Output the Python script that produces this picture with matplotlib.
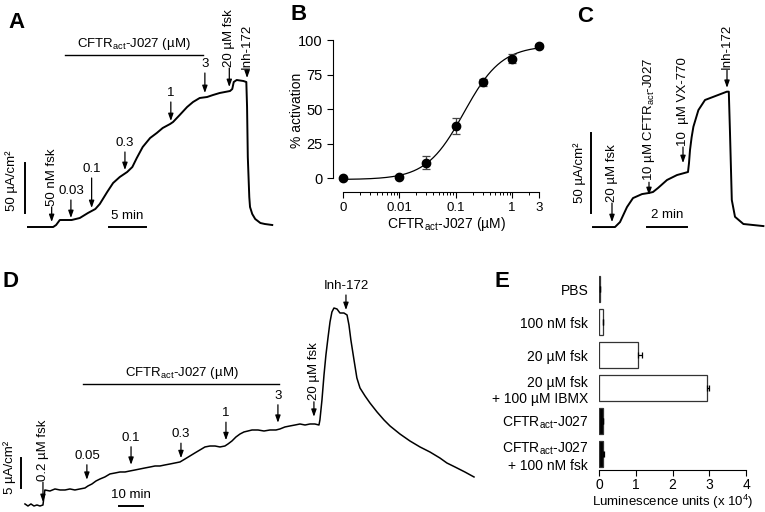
import matplotlib
matplotlib.use('Agg')
import matplotlib.pyplot as plt
import numpy as np
from matplotlib.ticker import LogLocator, NullFormatter, FixedLocator

plt.rcParams['font.family'] = ['Liberation Sans', 'DejaVu Sans']
plt.rcParams['mathtext.default'] = 'regular'
plt.rcParams['font.size'] = 9.5

CFTR = 'CFTR$_{act}$-J027'

# ---- panel A: short-circuit current trace (min, uA/cm2)
A_time = [0.0, 3.4, 3.8, 4.3, 5.9, 7.0, 8.1, 9.1, 9.7, 10.7, 11.5, 12.4, 13.4, 14.1, 14.7,
          15.5, 16.5, 17.4, 18.2, 19.2, 19.6, 20.5, 21.5, 22.3, 23.2, 24.2, 25.0, 25.9, 27.3,
          27.6, 27.8, 28.2, 29.1, 29.5, 29.6, 29.7, 29.9, 30.0, 30.3, 30.7, 31.4, 32.0, 33.0]
A_current = [0, 0, 2, 7, 7, 9, 14, 18, 23, 35, 44, 50, 55, 60, 69,
             80, 89, 94, 99, 103, 105, 112, 120, 125, 129, 130, 132, 134, 136,
             138, 145, 147, 146, 145, 120, 70, 30, 20, 13, 8, 4, 3, 2]
A_event_time = [3.2, 5.8, 8.6, 13.1, 19.3, 23.9, 27.2, 29.6]
A_event_label = ['50 nM fsk', '0.03', '0.1', '0.3', '1', '3', '20 µM fsk', 'Inh-172']
A_event_rot = [90, 0, 0, 0, 0, 0, 90, 90]
A_arrow_top = [20, 27, 49, 75, 125, 154, 159, 157]
A_arrow_tip = [5, 9, 19, 57, 106, 134, 140, 149]

# ---- panel B: dose response
B_conc = [0, 0.01, 0.03, 0.1, 0.3, 1, 3]
B_act = [0, 1, 11, 38, 69.5, 86.6, 95.6]
B_err = [0, 0, 4.7, 5.8, 2.5, 3, 1.2]
B_top, B_bottom, B_ec50, B_hill = 96, -1, 0.14, 1.3

# ---- panel C
C_time = [0, 1.1, 1.35, 1.7, 2.0, 2.45, 2.8, 3.0, 3.25, 3.7, 4.2, 4.75, 4.8, 4.85, 4.93,
          5.02, 5.27, 5.6, 6.02, 6.69, 6.79, 6.85, 6.94, 7.1, 7.52, 8.52]
C_current = [0, 0, 3.1, 12.5, 18.1, 20.6, 21.3, 21.9, 24.4, 29.4, 32.5, 34.4, 40, 48.1, 56,
             62.7, 73.1, 79.4, 81.4, 84.6, 84.6, 58.8, 16.9, 6.4, 1.9, 0.6]
C_event_time = [0.95, 2.8, 4.5, 6.7]
C_event_label = ['20 µM fsk', '10 µM ' + CFTR, '10  µM VX-770', 'Inh-172']
C_arrow_top = [15, 28, 50, 98]
C_arrow_tip = [3.1, 20, 40, 87]

# ---- panel D
D_time = [0, 1.25, 2.5, 3.75, 5, 6.25, 7.5, 7.9, 8.3, 10.4, 12.5, 14.6, 16.7, 18.75, 20.8,
          22.9, 25, 26.25, 27.9, 29.6, 31.25, 33.3, 35.4, 37.5, 39.6, 41.7, 43.75, 45.8, 47.9,
          50, 52.1, 54.2, 56.25, 58.3, 60.4, 62.5, 64.6, 66.7, 68.75, 70.8, 72.9, 75, 77.1,
          79.2, 81.25, 83.3, 84.6, 86.25, 87.9, 89.6, 91.25, 92.9, 94.6, 97.1, 99.6, 102.1,
          104.6, 106.25, 108.3, 110.4, 112.5, 114.6, 116.7, 118.75, 120.8, 122.5, 122.9,
          123.75, 124.6, 125.4, 126.25, 127.1, 127.9, 128.75, 130, 131.25, 132.9, 134.2, 135,
          135.8, 137.1, 138.3, 139.6, 141.7, 143.75, 146.7, 149.6, 152.1, 156.25, 160.4, 164.6,
          168.75, 172.9, 175.8, 179.2, 183.3, 187.1]
D_current = [0.17, -0.17, 0.17, -0.17, 0, -0.17, 0, 1.33, 2.5, 2.33, 2.67, 2.5, 2.5, 2.67, 2.5,
             2.67, 2.83, 3.17, 3.5, 4.0, 4.33, 4.67, 5.17, 5.33, 5.5, 5.5, 5.67, 5.83, 6.0,
             6.17, 6.33, 6.5, 6.5, 6.67, 6.83, 7.0, 7.17, 7.67, 8.17, 8.67, 9.17, 9.67, 9.83,
             9.83, 9.67, 9.83, 10.17, 10.67, 11.33, 11.83, 12.17, 12.33, 12.5, 12.5, 12.33, 12.5,
             12.5, 12.67, 13.0, 13.17, 13.33, 13.5, 13.33, 13.5, 13.5, 13.33, 14.17,
             17.5, 21.67, 25.0, 27.83, 30.5, 32.17, 32.83, 32.67, 32.0, 32.0, 31.67, 30.0,
             27.5, 24.17, 21.17, 19.5, 18.17, 17.0, 15.5, 14.17, 13.17, 11.83, 10.67, 9.67,
             8.83, 7.83, 7.0, 6.33, 5.5, 4.67]
D_event_time = [7.5, 25.8, 44.2, 65, 83.75, 105.4, 120.4, 133.75]
D_event_label = ['0.2 µM fsk', '0.05', '0.1', '0.3', '1', '3', '20 µM fsk', 'Inh-172']
D_event_rot = [90, 0, 0, 0, 0, 0, 90, 0]
D_arrow_top = [3.8, 6.7, 9.7, 10.3, 13.8, 16.7, 17.2, 35]
D_arrow_tip = [0.5, 4.2, 6.7, 7.8, 10.8, 13.7, 14.7, 32.5]

# ---- panel E
E_labels = ['PBS', '100 nM fsk', '20 µM fsk', '20 µM fsk\n+ 100 µM IBMX',
            CFTR, CFTR + '\n+ 100 nM fsk']
E_values = [0.02, 0.09, 1.06, 2.94, 0.09, 0.11]
E_err = [0, 0.02, 0.1, 0.04, 0.01, 0.02]
E_colors = ['black', 'white', 'white', 'white', 'black', 'black']

W, H = 765, 512
fig = plt.figure(figsize=(W / 100, H / 100), dpi=100)


def box(l, t, r, b):
    return [l / W, 1 - b / H, (r - l) / W, (b - t) / H]


def trace_axes(rect, xlim, ylim):
    ax = fig.add_axes(box(*rect))
    ax.set_xlim(*xlim)
    ax.set_ylim(*ylim)
    ax.axis('off')
    return ax


def events(ax, times, labels, rots, tops, tips):
    for t, lab, rot, y0, y1 in zip(times, labels, rots, tops, tips):
        ax.annotate('', xy=(t, y1), xytext=(t, y0),
                    arrowprops=dict(arrowstyle='-|>,head_length=0.45,head_width=0.16',
                                    lw=0.9, color='k', shrinkA=0, shrinkB=0))
        ax.annotate(lab, (t, y0), xytext=(0, 1 if rot else 2), textcoords='offset points',
                    ha='center', va='bottom', rotation=rot)


def letter(x, y, s):
    fig.text(x / W, 1 - y / H, s, fontsize=16, fontweight='bold', va='baseline')


# A
axA = trace_axes((0, 0, 280, 240), (-3.78, 34.05), (-13, 227))
axA.plot(A_time, A_current, color='k', lw=1.4)
events(axA, A_event_time, A_event_label, A_event_rot, A_arrow_top, A_arrow_tip)
axA.plot([5.0, 23.6], [172, 172], color='k', lw=1)
axA.text(14.3, 175, CFTR + ' (µM)', ha='center', va='bottom')
axA.plot([-0.4, -0.4], [14, 64], color='k', lw=1.4)
axA.text(-2.16, 46, '50 µA/cm²', rotation=90, ha='center', va='center')
axA.plot([10.9, 15.9], [0, 0], color='k', lw=1.4)
axA.text(13.4, 5, '5 min', ha='center', va='bottom')
letter(8, 28, 'A')

# B
axB = fig.add_axes(box(343, 40, 539, 192))
axB.set_xscale('log')
axB.set_xlim(0.001, 3)
axB.set_ylim(-10, 100)
xplot = [c if c > 0 else 0.001 for c in B_conc]
fit_x = np.logspace(-3, np.log10(3), 300)
fit_y = B_bottom + (B_top - B_bottom) / (1 + (B_ec50 / fit_x) ** B_hill)
axB.plot(fit_x, fit_y, color='k', lw=0.9)
axB.errorbar(xplot, B_act, yerr=B_err, fmt='o', color='k', ms=6, ecolor='#444444',
             elinewidth=0.9, capsize=3, capthick=0.9, clip_on=False, zorder=3)
for s in ['top', 'right']:
    axB.spines[s].set_visible(False)
axB.spines['left'].set_position(('outward', 7))
axB.spines['left'].set_bounds(0, 100)
axB.spines['bottom'].set_bounds(0.001, 3)
axB.set_yticks([0, 25, 50, 75, 100])
axB.xaxis.set_major_locator(FixedLocator([0.001, 0.01, 0.1, 1, 3]))
axB.set_xticklabels(['0', '0.01', '0.1', '1', '3'])
axB.xaxis.set_minor_locator(LogLocator(subs=np.arange(2, 10), numticks=20))
axB.xaxis.set_minor_formatter(NullFormatter())
axB.tick_params(axis='y', labelsize=10.5, length=4, width=0.8)
axB.tick_params(axis='x', which='major', labelsize=9.5, length=4, width=0.8)
axB.tick_params(axis='x', which='minor', length=2.5, width=0.7)
axB.set_ylabel('% activation', fontsize=10)
axB.yaxis.set_label_coords(-0.2, 0.54)
axB.set_xlabel(CFTR + ' (µM)', fontsize=10)
axB.xaxis.set_label_coords(0.53, -0.15)
letter(290, 20, 'B')

# C
axC = trace_axes((560, 0, 765, 240), (-1.65, 8.6), (-8.1, 141.9))
axC.plot(C_time, C_current, color='k', lw=1.4)
events(axC, C_event_time, C_event_label, [90] * 4, C_arrow_top, C_arrow_tip)
axC.plot([-0.1, -0.1], [8.75, 58.75], color='k', lw=1.4)
axC.text(-0.65, 34, '50 µA/cm²', rotation=90, ha='center', va='center')
axC.plot([2.7, 4.7], [0, 0], color='k', lw=1.4)
axC.text(3.7, 3.5, '2 min', ha='center', va='bottom')
letter(577, 22, 'C')

# D
axD = trace_axes((0, 250, 480, 512), (-10.4, 189.6), (-1.17, 42.5))
axD.plot(D_time, D_current, color='k', lw=1.1)
events(axD, D_event_time, D_event_label, D_event_rot, D_arrow_top, D_arrow_tip)
axD.plot([24.2, 105.8], [20.17, 20.17], color='k', lw=1)
axD.text(65.4, 20.7, CFTR + ' (µM)', ha='center', va='bottom')
axD.plot([-1.67, -1.67], [2.83, 7.83], color='k', lw=1.4)
axD.text(-6.25, 6.3, '5 µA/cm²', rotation=90, ha='center', va='center')
axD.plot([39.2, 49.2], [-0.17, -0.17], color='k', lw=1.4)
axD.text(44.2, 0.6, '10 min', ha='center', va='bottom')
letter(3, 287, 'D')

# E
axE = fig.add_axes(box(599.3, 272, 746, 470))
ypos = np.arange(len(E_values))
axE.barh(ypos, E_values, height=0.79, color=E_colors, edgecolor='#333333', lw=0.9)
axE.errorbar(E_values, ypos, xerr=[np.zeros(len(E_err)), E_err], fmt='none',
             ecolor='k', elinewidth=0.9, capsize=2.5, capthick=0.9)
axE.set_xlim(0, 4)
axE.set_ylim(5.485, -0.52)
for s in ['top', 'right', 'left']:
    axE.spines[s].set_visible(False)
axE.set_yticks(ypos)
axE.set_yticklabels(E_labels, fontsize=10)
axE.tick_params(axis='y', length=0, pad=8)
axE.set_xticks([0, 1, 2, 3, 4])
axE.tick_params(axis='x', labelsize=10, length=4, width=0.8, pad=1.5)
axE.set_xlabel('Luminescence units (x 10$^{4}$)', fontsize=9.5, va='bottom')
axE.xaxis.set_label_coords(0.5, -0.205)
letter(495, 287, 'E')

fig.savefig('out.png', dpi=100)
